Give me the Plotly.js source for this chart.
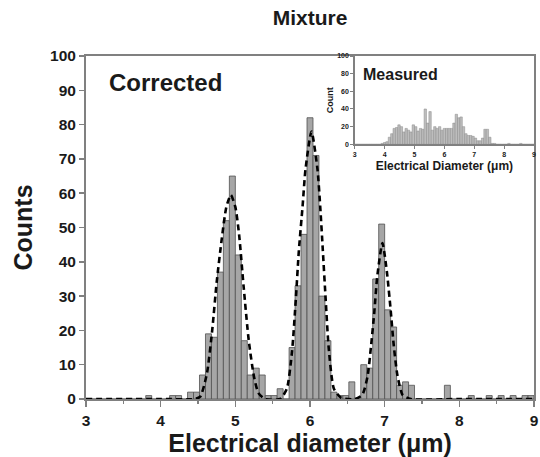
<!DOCTYPE html>
<html>
<head>
<meta charset="utf-8">
<script src="https://cdn.plot.ly/plotly-3.0.1.min.js"></script>
<style>html,body{margin:0;padding:0;background:#fff;}#chart{width:540px;height:457px;}</style>
</head>
<body>
<div id="chart"></div>
<script>
// Histogram bins: start 3.00 um, width 0.08 um (75 bins up to 9.00 um)
const binStart = 3.0;
const binWidth = 0.08;

// Corrected counts (main plot)
const correctedCounts = [
  0,0,0,0,0,0,0,0,0,0,
  1,0,0,0,1,1,0,2,2,7,
  19,18,37,52,65,42,17,7,9,7,
  1,1,3,0,15,33,48,82,71,30,
  17,2,1,1,5,0,10,9,35,51,
  26,21,4,5,4,0,0,0,0,0,
  4,0,0,0,1,0,0,1,0,1,
  0,1,0,1,1
];

// Measured counts (inset)
const measuredCounts = [
  0,0,0,0,0,0,0,0,0,0,
  0,1,2,3,8,12,18,19,22,20,
  14,18,16,14,22,20,15,18,17,40,
  24,37,16,20,18,20,16,18,18,18,
  18,24,34,30,31,20,12,10,10,9,
  7,4,4,7,17,17,8,1,1,0,
  0,0,0,0,1,0,0,0,0,1,
  0,0,0,0,0
];

// Dashed fit curve
const fitX = [3.0, 4.0, 4.45, 4.53, 4.62, 4.69, 4.75, 4.82, 4.88, 4.94, 5.0, 5.05, 5.11, 5.18, 5.25, 5.31, 5.4,
              5.6, 5.69, 5.76, 5.81, 5.85, 5.90, 5.94, 6.02, 6.10, 6.14, 6.17, 6.21, 6.25, 6.32, 6.42,
              6.6, 6.70, 6.77, 6.82, 6.86, 6.90, 6.97, 7.03, 7.08, 7.12, 7.17, 7.24, 7.35, 8.0, 9.0];
const fitY = [0, 0, 0, 0.7, 7.5, 20, 34, 47, 56, 59.5, 56, 48, 33, 17, 6.5, 1.7, 0,
              0, 3, 14, 29, 43, 56, 67, 78, 67, 55, 44, 29, 15, 3, 0.3,
              0, 1.2, 6.5, 16, 25, 35.6, 45.5, 37, 26, 16, 7, 1.2, 0, 0, 0];

const xTitle = 'Electrical diameter (\u03bcm)';
const yTitle = 'Counts';
const insetXTitle = 'Electrical Diameter (\u03bcm)';
const insetYTitle = 'Count';
const chartTitle = 'Mixture';

const FONT = '"Liberation Sans", Arial, Helvetica, sans-serif';
const AX = '#808080';
const TXT = '#1a1a1a';

const traces = [
  {
    type: 'bar', y: correctedCounts, x0: binStart + binWidth / 2, dx: binWidth,
    xaxis: 'x', yaxis: 'y',
    marker: {color: '#a6a6a6', line: {color: '#505050', width: 0.8}},
    hoverinfo: 'x+y'
  },
  {
    type: 'scatter', mode: 'lines', x: fitX, y: fitY, xaxis: 'x', yaxis: 'y',
    line: {color: '#000000', width: 2.6, dash: '6px,4px', shape: 'spline', smoothing: 0.6}
  },
  {
    type: 'bar', y: measuredCounts, x0: binStart + binWidth / 2, dx: binWidth,
    xaxis: 'x2', yaxis: 'y2',
    marker: {color: '#bdbdbd', line: {color: '#8a8a8a', width: 0.5}}
  }
];

const layout = {
  width: 540, height: 457,
  margin: {l: 86, r: 6, t: 56, b: 58},
  paper_bgcolor: '#ffffff', plot_bgcolor: '#ffffff',
  showlegend: false, bargap: 0,
  font: {family: FONT, color: TXT},
  title: {
    text: chartTitle, font: {size: 21, weight: 'bold', color: TXT},
    x: 310 / 540, xref: 'container', xanchor: 'center',
    y: 1 - 18 / 457, yref: 'container', yanchor: 'middle'
  },
  xaxis: {
    domain: [0, 1], anchor: 'y', range: [3, 9], tick0: 3, dtick: 1,
    showline: true, linecolor: AX, linewidth: 2, mirror: true,
    ticks: 'outside', ticklen: 6, tickwidth: 1.5, tickcolor: AX,
    minor: {dtick: 0.5, ticks: 'outside', ticklen: 3, tickwidth: 1.2, tickcolor: AX},
    showgrid: false, zeroline: false,
    tickfont: {size: 15.5, weight: 'bold', color: TXT},
    title: {text: xTitle, font: {size: 25, weight: 'bold', color: TXT}, standoff: 0}
  },
  yaxis: {
    domain: [0, 1], anchor: 'x', range: [0, 100], tick0: 0, dtick: 10,
    showline: true, linecolor: AX, linewidth: 2, mirror: true,
    ticks: 'outside', ticklen: 5, tickwidth: 1.5, tickcolor: AX,
    showgrid: false, zeroline: false,
    tickfont: {size: 15.5, weight: 'bold', color: TXT},
    title: {text: yTitle, font: {size: 25, weight: 'bold', color: TXT}, standoff: 10}
  },
  yaxis3: {
    overlaying: 'y', anchor: 'x', side: 'right', range: [0, 100], tick0: 0, dtick: 10,
    ticks: 'inside', ticklen: 4, tickwidth: 1.5, tickcolor: AX,
    showticklabels: false, showline: false, showgrid: false, zeroline: false
  },
  xaxis2: {
    domain: [0.6, 1], anchor: 'y2', range: [3, 9], tick0: 3, dtick: 1,
    showline: true, linecolor: AX, linewidth: 1.5,
    ticks: 'outside', ticklen: 3, tickwidth: 1, tickcolor: AX,
    showgrid: false, zeroline: false,
    tickfont: {size: 7, weight: 'bold', color: TXT},
    title: {text: insetXTitle, font: {size: 12, weight: 'bold', color: TXT}, standoff: 4}
  },
  yaxis2: {
    domain: [0.7426, 1], anchor: 'x2', range: [0, 100], tick0: 0, dtick: 20,
    showline: true, linecolor: AX, linewidth: 1.5,
    ticks: 'outside', ticklen: 3, tickwidth: 1, tickcolor: AX,
    showgrid: false, zeroline: false,
    tickfont: {size: 7, weight: 'bold', color: TXT},
    title: {text: insetYTitle, font: {size: 9, weight: 'bold', color: TXT}, standoff: 2}
  },
  annotations: [
    {text: 'Corrected', xref: 'paper', yref: 'paper', x: 0.047, y: 0.924,
     xanchor: 'left', yanchor: 'middle', showarrow: false,
     font: {size: 24, weight: 'bold', color: TXT}},
    {text: 'Measured', xref: 'paper', yref: 'paper', x: 0.614, y: 0.9475,
     xanchor: 'left', yanchor: 'middle', showarrow: false,
     font: {size: 16, weight: 'bold', color: TXT}}
  ]
};

Plotly.newPlot('chart', traces, layout, {displayModeBar: false, staticPlot: true});
</script>
</body>
</html>
